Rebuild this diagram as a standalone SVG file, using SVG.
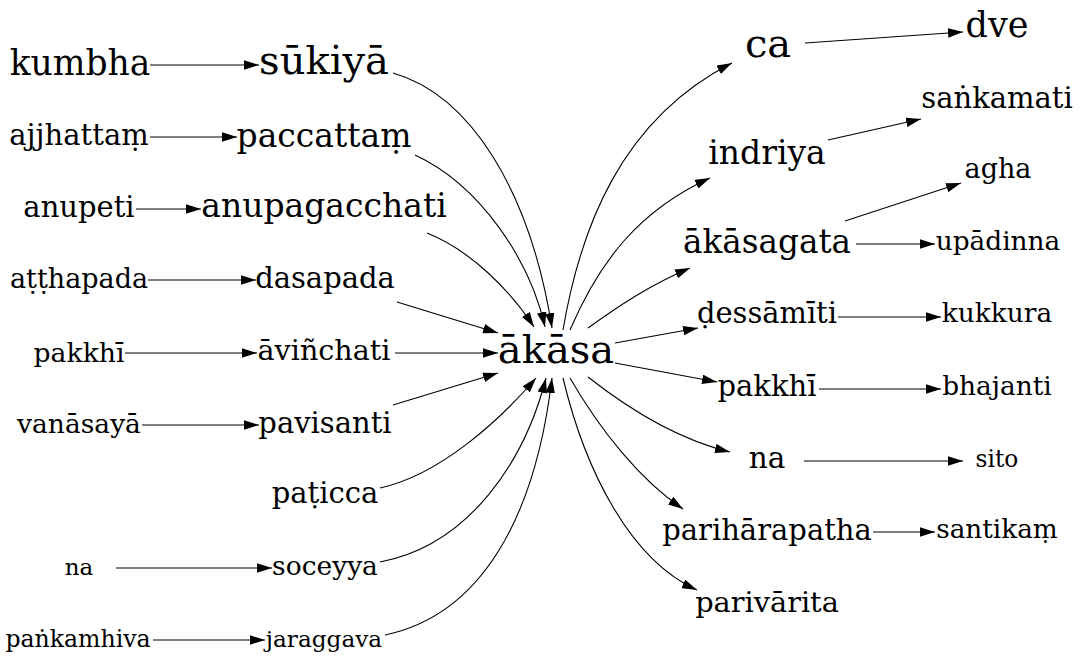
<svg xmlns="http://www.w3.org/2000/svg" width="1080" height="671" viewBox="0 0 1080 671">
<defs>
<marker id="ah" viewBox="0 0 15 9.5" refX="15" refY="4.75" markerWidth="15" markerHeight="9.5" markerUnits="userSpaceOnUse" orient="auto">
<path d="M0,0 L15,4.75 L0,9.5 Z" fill="#000"/>
</marker>
<style>
text{font-family:"DejaVu Serif","Liberation Serif",serif;fill:#000;text-anchor:middle}
.e{fill:none;stroke:#000;stroke-width:1.1;marker-end:url(#ah)}
</style>
</defs>
<rect width="1080" height="671" fill="#fff"/>
<g id="edges">
<path class="e" d="M150,65 L259,65"/>
<path class="e" d="M150,137 L237,137"/>
<path class="e" d="M136,209 L201,209"/>
<path class="e" d="M148,280 L256,280"/>
<path class="e" d="M125,353 L257,353"/>
<path class="e" d="M142,425 L259,425"/>
<path class="e" d="M116,568 L272,568"/>
<path class="e" d="M153,640 L265,640"/>
<path class="e" d="M393,73 C470,95 530,190 552,328"/>
<path class="e" d="M415,155 C480,185 530,260 545,327"/>
<path class="e" d="M427,233 C470,250 510,290 534,327"/>
<path class="e" d="M397,302 L498,333"/>
<path class="e" d="M395,353 L498,353"/>
<path class="e" d="M393,405 L498,373"/>
<path class="e" d="M380,488 C440,475 500,420 536,378"/>
<path class="e" d="M380,562 C470,545 525,460 546,378"/>
<path class="e" d="M385,635 C480,615 535,520 552,378"/>
<path class="e" d="M563,330 C580,230 620,120 732,63"/>
<path class="e" d="M570,330 C600,260 640,210 710,178"/>
<path class="e" d="M588,328 C620,305 650,285 690,268"/>
<path class="e" d="M615,343 L698,328"/>
<path class="e" d="M615,363 L717,382"/>
<path class="e" d="M588,377 C630,410 680,440 730,452"/>
<path class="e" d="M570,378 C600,430 640,480 683,509"/>
<path class="e" d="M563,378 C585,470 630,560 697,590"/>
<path class="e" d="M805,43 L963,32"/>
<path class="e" d="M828,140 L921,119"/>
<path class="e" d="M845,221 L961,183"/>
<path class="e" d="M856,244 L935,244"/>
<path class="e" d="M838,317 L941,317"/>
<path class="e" d="M819,389 L941,389"/>
<path class="e" d="M804,461 L963,461"/>
<path class="e" d="M873,532 L935,532"/>
</g>
<g id="n-kumbha"><text x="80" y="75" font-size="34.5">kumbha</text></g>
<g id="n-ajjhattam"><text x="79" y="145" font-size="29">ajjhattaṃ</text></g>
<g id="n-anupeti"><text x="79" y="217" font-size="29">anupeti</text></g>
<g id="n-atthapada"><text x="79" y="288" font-size="27">aṭṭhapada</text></g>
<g id="n-pakkhi1"><text x="79" y="362" font-size="26.7">pakkhī</text></g>
<g id="n-vanasaya"><text x="79" y="433" font-size="26.5">vanāsayā</text></g>
<g id="n-na1"><text x="79" y="575" font-size="23">na</text></g>
<g id="n-pankamhiva"><text x="78" y="647" font-size="23.6">paṅkamhiva</text></g>
<g id="n-sukiya"><text x="324" y="74" font-size="40">sūkiyā</text></g>
<g id="n-paccattam"><text x="324" y="147" font-size="33">paccattaṃ</text></g>
<g id="n-anupagacchati"><text x="324" y="217" font-size="33">anupagacchati</text></g>
<g id="n-dasapada"><text x="325" y="288" font-size="29">dasapada</text></g>
<g id="n-avinchati"><text x="324" y="360" font-size="28.6">āviñchati</text></g>
<g id="n-pavisanti"><text x="325" y="433" font-size="29">pavisanti</text></g>
<g id="n-paticca"><text x="325" y="503" font-size="29">paṭicca</text></g>
<g id="n-soceyya"><text x="325" y="575" font-size="26.5">soceyya</text></g>
<g id="n-jaraggava"><text x="324" y="647" font-size="23.2">jaraggava</text></g>
<g id="n-akasa"><text x="556" y="363" font-size="40">ākāsa</text></g>
<g id="n-ca"><text x="768" y="57" font-size="40">ca</text></g>
<g id="n-indriya"><text x="767" y="164" font-size="33">indriya</text></g>
<g id="n-akasagata"><text x="767" y="253" font-size="32.7">ākāsagata</text></g>
<g id="n-dessamiti"><text x="767" y="323" font-size="28.9">ḍessāmīti</text></g>
<g id="n-pakkhi2"><text x="767" y="396" font-size="29">pakkhī</text></g>
<g id="n-na2"><text x="767" y="468" font-size="29.5">na</text></g>
<g id="n-pariharapatha"><text x="767" y="540" font-size="29">parihārapatha</text></g>
<g id="n-parivarita"><text x="767" y="612" font-size="28.8">parivārita</text></g>
<g id="n-dve"><text x="997" y="37" font-size="35">dve</text></g>
<g id="n-sankamati"><text x="997" y="108" font-size="29">saṅkamati</text></g>
<g id="n-agha"><text x="998" y="178" font-size="27">agha</text></g>
<g id="n-upadinna"><text x="998" y="250" font-size="26.4">upādinna</text></g>
<g id="n-kukkura"><text x="997" y="322" font-size="26.4">kukkura</text></g>
<g id="n-bhajanti"><text x="997" y="395" font-size="26.4">bhajanti</text></g>
<g id="n-sito"><text x="997" y="467" font-size="23.3">sito</text></g>
<g id="n-santikam"><text x="997" y="538" font-size="26.3">santikaṃ</text></g>
</svg>
